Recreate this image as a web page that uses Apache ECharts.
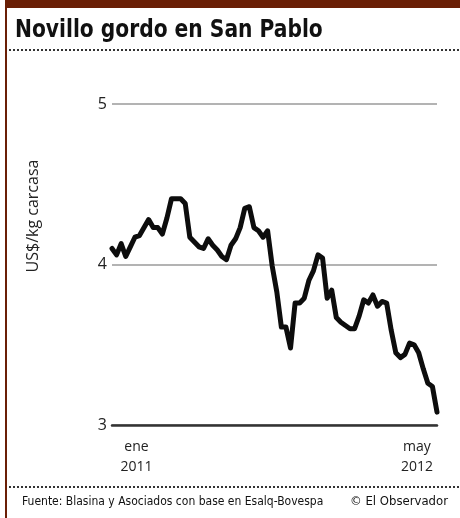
<!DOCTYPE html>
<html>
<head>
<meta charset="utf-8">
<script src="https://cdn.jsdelivr.net/npm/echarts@6/dist/echarts.min.js"></script>
<style>
html,body{margin:0;padding:0;background:#fff;}
#chart{width:460px;height:518px;}
</style>
</head>
<body>
<div id="chart"></div>
<script>
// Weekly price, Jan 2011 – May 2012 (US$/kg carcasa)
const weeks = [];
const prices = [
  4.10, 4.06, 4.13, 4.05, 4.11, 4.17, 4.18, 4.23, 4.28, 4.23,
  4.23, 4.19, 4.29, 4.41, 4.41, 4.41, 4.38, 4.17, 4.14, 4.11,
  4.10, 4.16, 4.12, 4.09, 4.05, 4.03, 4.12, 4.16, 4.23, 4.35,
  4.36, 4.23, 4.21, 4.17, 4.21, 3.99, 3.83, 3.61, 3.61, 3.48,
  3.76, 3.76, 3.79, 3.90, 3.96, 4.06, 4.04, 3.79, 3.84, 3.67,
  3.64, 3.62, 3.60, 3.60, 3.68, 3.78, 3.76, 3.81, 3.74, 3.77,
  3.76, 3.59, 3.45, 3.42, 3.44, 3.51, 3.50, 3.45, 3.35, 3.26,
  3.24, 3.08
];
for (let i = 0; i < prices.length; i++) weeks.push('w' + i);
const xTickMonths = ['ene', 'may'];
const xTickYears = ['2011', '2012'];
const yTicks = [3, 4, 5];
const titleText = 'Novillo gordo en San Pablo';
const yAxisName = 'US$/kg carcasa';
const sourceText = 'Fuente: Blasina y Asociados con base en Esalq-Bovespa';
const creditText = '© El Observador';

const brown = '#6a1f06';
const chart = echarts.init(document.getElementById('chart'), null, {renderer: 'canvas'});
chart.setOption({
  animation: false,
  grid: {left: 112, right: 23, top: 104, bottom: 93, containLabel: false, outerBoundsMode: 'none'},
  xAxis: {
    type: 'category',
    data: weeks,
    boundaryGap: false,
    axisLine: {show: true, lineStyle: {color: '#333', width: 2.5}},
    axisTick: {show: false},
    splitLine: {show: false},
    axisLabel: {
      interval: 0,
      margin: 12,
      color: '#222',
      fontFamily: 'Open Sans',
      fontSize: 14,
      lineHeight: 20,
      align: 'center',
      hideOverlap: false,
      formatter: function (v, idx) {
        if (idx === 0) return '{a|' + xTickMonths[0] + '}\n{a|' + xTickYears[0] + '}';
        if (idx === weeks.length - 1) return '{b|' + xTickMonths[1] + '}\n{b|' + xTickYears[1] + '}';
        return '';
      },
      rich: {
        a: {padding: [0, 0, 0, 49], fontFamily: 'Open Sans', fontSize: 14, lineHeight: 20, color: '#222'},
        b: {padding: [0, 40, 0, 0], fontFamily: 'Open Sans', fontSize: 14, lineHeight: 20, color: '#222'}
      }
    }
  },
  yAxis: {
    type: 'value',
    min: yTicks[0],
    max: yTicks[yTicks.length - 1],
    interval: 1,
    axisLine: {show: false},
    axisTick: {show: false},
    splitLine: {show: true, lineStyle: {color: '#9a9a9a', width: 1.5}},
    axisLabel: {margin: 5, color: '#222', fontFamily: 'Open Sans', fontSize: 16}
  },
  series: [{
    type: 'line',
    data: prices,
    symbol: 'none',
    lineStyle: {color: '#0d0d0d', width: 5, join: 'round', cap: 'round'},
    z: 5
  }],
  graphic: [
    {type: 'rect', shape: {x: 5, y: 0, width: 455, height: 8}, style: {fill: brown}},
    {type: 'rect', shape: {x: 5, y: 0, width: 2, height: 518}, style: {fill: brown}},
    {type: 'text', x: 15, y: 30, scaleX: 0.9, style: {text: titleText, fill: '#111', font: 'bold 25px "DejaVu Sans Condensed"', textVerticalAlign: 'middle'}},
    {type: 'line', shape: {x1: 9, y1: 50, x2: 460, y2: 50}, style: {stroke: '#333', lineWidth: 2, lineDash: [2, 2]}},
    {type: 'text', x: 33, y: 216, rotation: Math.PI / 2, style: {text: yAxisName, fill: '#222', font: '16px "Open Sans"', textAlign: 'center', textVerticalAlign: 'middle'}},
    {type: 'line', shape: {x1: 9, y1: 487, x2: 460, y2: 487}, style: {stroke: '#333', lineWidth: 2, lineDash: [2, 2]}},
    {type: 'text', x: 22, y: 502, style: {text: sourceText, fill: '#111', font: '12px "DejaVu Sans Condensed"', textVerticalAlign: 'middle'}},
    {type: 'text', x: 448, y: 502, style: {text: creditText, fill: '#111', font: '13px "DejaVu Sans Condensed"', textAlign: 'right', textVerticalAlign: 'middle'}}
  ]
});
</script>
</body>
</html>
